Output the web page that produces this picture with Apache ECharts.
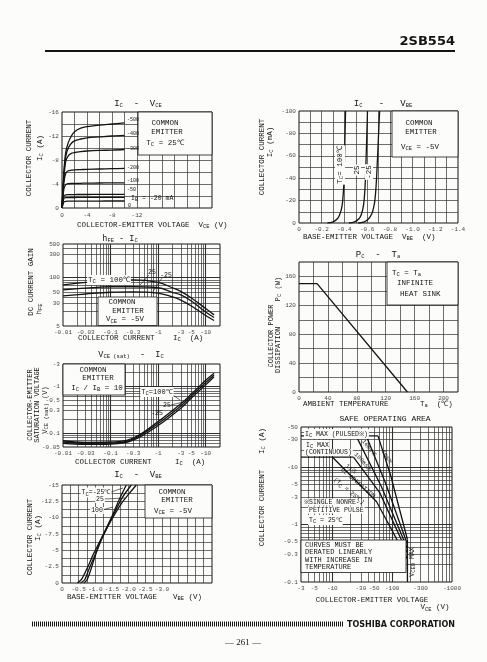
<!DOCTYPE html>
<html><head><meta charset="utf-8">
<script src="https://cdn.jsdelivr.net/npm/echarts@6/dist/echarts.min.js"></script>
<style>html,body{margin:0;padding:0;background:#fcfcfb;}#c{width:487px;height:662px;}</style>
</head><body><div id="c"></div>
<script>
// ================= DATA =================
// Panel A : IC - VCE  (common emitter, Tc = 25C)
const vceVolts = [0, -0.3, -0.6, -1, -1.5, -2, -3, -4, -6, -8, -10];
const icIb500 = [0, -6.0, -9.3, -10.9, -12.0, -12.7, -13.3, -13.55, -13.8, -14.0, -14.2];
const icIb400 = [0, -5.5, -8.6, -10.0, -10.8, -11.2, -11.5, -11.7, -11.85, -12.0, -12.1];
const icIb300 = [0, -5.0, -7.8, -8.7, -9.1, -9.25, -9.4, -9.5, -9.6, -9.65, -9.75];
const icIb200 = [0, -4.2, -5.8, -6.2, -6.3, -6.35, -6.4, -6.45, -6.5, -6.55, -6.6];
const icIb100 = [0, -3.2, -3.9, -4.05, -4.1, -4.1, -4.12, -4.15, -4.17, -4.18, -4.2];
const icIb50  = [0, -2.0, -2.2, -2.22, -2.23, -2.24, -2.25, -2.25, -2.26, -2.27, -2.28];
const icIb30  = [0, -1.6, -1.72, -1.74, -1.75, -1.75, -1.76, -1.76, -1.77, -1.77, -1.78];
const icIb20  = [0, -1.0, -1.12, -1.14, -1.15, -1.15, -1.16, -1.16, -1.16, -1.17, -1.17];
const aXTicks = [0, -4, -8, -12];
const aXLabels = ['0', '-4', '-8', '-12'];
const aYTicks = [-16, -12, -8, -4, 0];
const aYLabels = ['-16', '-12', '-8', '-4', '0'];

// Panel B : IC - VBE (mA)
const icBmA      = [0, -1, -4, -8, -13, -20, -35, -55, -78, -100];
const vbeBTc100  = [-0.25, -0.30, -0.34, -0.36, -0.375, -0.385, -0.395, -0.40, -0.405, -0.41];
const vbeBTc25   = [-0.44, -0.49, -0.53, -0.55, -0.563, -0.573, -0.583, -0.590, -0.597, -0.603];
const vbeBTcM25  = [-0.52, -0.575, -0.615, -0.64, -0.655, -0.668, -0.68, -0.69, -0.70, -0.71];
const bXTicks = [0, -0.2, -0.4, -0.6, -0.8, -1.0, -1.2, -1.4];
const bXLabels = ['0', '-0.2', '-0.4', '-0.6', '-0.8', '-1.0', '-1.2', '-1.4'];
const bYTicks = [-100, -80, -60, -40, -20, 0];
const bYLabels = ['-100', '-80', '-60', '-40', '-20', '0'];

// Panel C : hFE - IC
const hfeIc     = [-0.01, -0.03, -0.1, -0.3, -1, -2, -3, -5, -10, -15];
const hfeTc100  = [71, 80, 88, 90, 80, 62, 52, 38, 23, 17];
const hfeTc25   = [56, 61, 65, 65, 62, 50, 44, 33, 19.5, 15];
const hfeTcM25  = [42, 46, 50, 51, 48, 40, 34.5, 26, 16.5, 13];
const cXTicks = [-0.01, -0.03, -0.1, -0.3, -1, -3, -5, -10];
const cXLabels = ['-0.01', '-0.03', '-0.1', '-0.3', '-1', '-3', '-5', '-10'];
const cYTicks = [10, 30, 50, 100, 300, 500];
const cYLabels = ['5', '30', '50', '100', '300', '500'];

// Panel D : PC - Ta
const taDeg = [0, 25, 150];
const pcWatt = [150, 150, 0];
const dXTicks = [0, 40, 80, 120, 160, 200];
const dXLabels = ['0', '40', '80', '120', '160', '200'];
const dYTicks = [0, 40, 80, 120, 160];
const dYLabels = ['0', '40', '80', '120', '160'];

// Panel E : VCE(sat) - IC
const satIc    = [-0.01, -0.03, -0.1, -0.3, -1, -3, -5, -10, -15];
const satTc100 = [-0.068, -0.063, -0.064, -0.078, -0.175, -0.42, -0.68, -1.34, -1.9];
const satTc25  = [-0.064, -0.060, -0.061, -0.074, -0.16, -0.38, -0.62, -1.2, -1.75];
const satTcM25 = [-0.060, -0.057, -0.058, -0.070, -0.145, -0.34, -0.56, -1.07, -1.6];
const eYTicks = [-3, -1, -0.5, -0.3, -0.1, -0.05];
const eYLabels = ['-3', '-1', '-0.5', '-0.3', '-0.1', '-0.05'];

// Panel F : IC - VBE (A)
const vbeFTc100 = [-0.46, -0.58, -0.75, -0.95, -1.2, -1.5, -1.8, -2.0, -2.23];
const icFTc100  = [0, -0.5, -2.2, -4.5, -7.0, -9.8, -12.3, -13.6, -15];
const vbeFTc25  = [-0.56, -0.68, -0.8, -1.0, -1.2, -1.5, -1.8, -2.08];
const icFTc25   = [0, -0.5, -2.0, -4.4, -6.8, -10.0, -13.0, -15];
const vbeFTcM25 = [-0.66, -0.75, -0.85, -1.0, -1.2, -1.5, -1.7, -1.93];
const icFTcM25  = [0, -0.5, -1.8, -4.2, -7.0, -10.2, -12.6, -15];
const fXTicks = [0, -0.5, -1.0, -1.5, -2.0, -2.5, -3.0];
const fXLabels = ['0', '-0.5', '-1.0', '-1.5', '-2.0', '-2.5', '-3.0'];
const fYTicks = [-15, -12.5, -10, -7.5, -5, -2.5, 0];
const fYLabels = ['-15', '-12.5', '-10', '-7.5', '-5', '-2.5', '0'];

// Panel G : Safe operating area
const soaPulsedV = [-3, -58],          soaPulsedI = [-35, -35];
const soaContV   = [-3, -22.6],        soaContI   = [-15, -15];
const soaDcV     = [-10, -55, -180],   soaDcI     = [-15, -2.5, -0.25];
const soa1sV     = [-22.6, -62, -180], soa1sI     = [-15, -3.6, -0.32];
const soa100msV  = [-25, -66, -180],   soa100msI  = [-35, -4.6, -0.38];
const soa10msV   = [-37, -78, -180],   soa10msI   = [-35, -5.2, -0.45];
const soa1msV    = [-58, -95, -180],   soa1msI    = [-35, -7, -0.55];
const soaVceoV   = [-180, -180],       soaVceoI   = [-0.1, -0.55];
const gXTicks = [-3, -5, -10, -30, -50, -100, -300, -1000];
const gXLabels = ['-3', '-5', '-10', '-30', '-50', '-100', '-300', '-1000'];
const gYTicks = [-50, -30, -10, -5, -3, -1, -0.5, -0.3, -0.1];
const gYLabels = ['-50', '-30', '-10', '-5', '-3', '-1', '-0.5', '-0.3', '-0.1'];

// ================= STYLE / LAYOUT =================
const INK = '#141414';
const GRIDC = '#303030';
const BG = '#fcfcfb';
const FONT = '"Liberation Mono","DejaVu Sans Mono",monospace';
const TICKFONT = '"Liberation Mono","DejaVu Sans Mono",monospace';
const abs = v => Math.abs(v);

const grids = [
  {left: 62,  top: 112, width: 150, height: 96},   // A
  {left: 299, top: 111, width: 159, height: 112},  // B
  {left: 63,  top: 244, width: 157, height: 82},   // C
  {left: 299, top: 262, width: 159, height: 130},  // D
  {left: 63,  top: 364, width: 157, height: 83},   // E
  {left: 62,  top: 485, width: 150, height: 98},   // F
  {left: 301, top: 427, width: 151, height: 155}   // G
];
const hid = {axisLine: {show: false}, axisTick: {show: false}, axisLabel: {show: false}, splitLine: {show: false}};
const xAxes = [
  Object.assign({gridIndex: 0, type: 'value', min: -24, max: 0, inverse: true}, hid),
  Object.assign({gridIndex: 1, type: 'value', min: -1.4, max: 0, inverse: true}, hid),
  Object.assign({gridIndex: 2, type: 'log', min: 0.01, max: 20}, hid),
  Object.assign({gridIndex: 3, type: 'value', min: 0, max: 220}, hid),
  Object.assign({gridIndex: 4, type: 'log', min: 0.01, max: 20}, hid),
  Object.assign({gridIndex: 5, type: 'value', min: -4.5, max: 0, inverse: true}, hid),
  Object.assign({gridIndex: 6, type: 'log', min: 3, max: 1000}, hid)
];
const yAxes = [
  Object.assign({gridIndex: 0, type: 'value', min: -16, max: 0, inverse: true}, hid),
  Object.assign({gridIndex: 1, type: 'value', min: -100, max: 0, inverse: true}, hid),
  Object.assign({gridIndex: 2, type: 'log', min: 10, max: 500}, hid),
  Object.assign({gridIndex: 3, type: 'value', min: 0, max: 180}, hid),
  Object.assign({gridIndex: 4, type: 'log', min: 0.05, max: 3}, hid),
  Object.assign({gridIndex: 5, type: 'value', min: -15, max: 0, inverse: true}, hid),
  Object.assign({gridIndex: 6, type: 'log', min: 0.1, max: 50}, hid)
];

function logGrid(lo, hi) {
  const out = [];
  for (let e = -3; e <= 4; e++) for (let m = 1; m <= 9; m++) {
    const v = +(m * Math.pow(10, e)).toPrecision(6);
    if (v > lo * 1.0001 && v < hi * 0.9999) out.push({v, major: m === 1});
  }
  return out;
}
function linGrid(lo, hi, step) {
  const out = []; const n = Math.round((hi - lo) / step);
  for (let k = 1; k < n; k++) out.push({v: +(lo + k * step).toFixed(6), major: false});
  return out;
}
function decor(i, c) {
  const data = [];
  c.xTicks.forEach((v, k) => data.push({value: [c.fx(v), c.yBottom], label: {position: 'bottom', distance: c.xDist || 3, formatter: c.xLabels[k]}}));
  c.yTicks.forEach((v, k) => data.push({value: [c.xLeft, c.fy(v)], label: {position: 'left', distance: 3, formatter: c.yLabels[k]}}));
  const ml = [];
  c.xGrid.forEach(g => ml.push({xAxis: g.v, lineStyle: {width: g.major ? 1.1 : 0.7}}));
  c.yGrid.forEach(g => ml.push({yAxis: g.v, lineStyle: {width: g.major ? 1.1 : 0.7}}));
  return {type: 'scatter', xAxisIndex: i, yAxisIndex: i, z: 2, silent: true, clip: false,
    symbolSize: 0.1, itemStyle: {color: 'rgba(0,0,0,0)'},
    label: {show: true, color: INK, fontFamily: TICKFONT, fontSize: 6},
    data,
    markLine: {silent: true, symbol: ['none', 'none'], label: {show: false}, animation: false,
      lineStyle: {color: GRIDC, type: 'solid', width: 0.7}, data: ml}};
}
function curve(i, xs, ys, o) {
  o = o || {};
  return {type: 'line', xAxisIndex: i, yAxisIndex: i, z: 6, silent: true, symbol: 'none', showSymbol: false,
    smooth: o.smooth === undefined ? 0.3 : o.smooth, smoothMonotone: o.mono,
    lineStyle: {color: INK, width: o.w || 1.3},
    data: xs.map((x, k) => [x, ys[k]])};
}
const id = v => v;

const series = [
  decor(0, {xTicks: aXTicks, xLabels: aXLabels, yTicks: aYTicks, yLabels: aYLabels, fx: id, fy: id, yBottom: 0, xLeft: 0, xDist: 4,
    xGrid: linGrid(-24, 0, 2), yGrid: linGrid(-16, 0, 2)}),
  decor(1, {xTicks: bXTicks, xLabels: bXLabels, yTicks: bYTicks, yLabels: bYLabels, fx: id, fy: id, yBottom: 0, xLeft: 0,
    xGrid: linGrid(-1.4, 0, 0.1), yGrid: linGrid(-100, 0, 10)}),
  decor(2, {xTicks: cXTicks, xLabels: cXLabels, yTicks: cYTicks, yLabels: cYLabels, fx: abs, fy: id, yBottom: 10, xLeft: 0.01,
    xGrid: logGrid(0.01, 20), yGrid: logGrid(10, 500)}),
  decor(3, {xTicks: dXTicks, xLabels: dXLabels, yTicks: dYTicks, yLabels: dYLabels, fx: id, fy: id, yBottom: 0, xLeft: 0,
    xGrid: linGrid(0, 220, 20), yGrid: linGrid(0, 180, 20)}),
  decor(4, {xTicks: cXTicks, xLabels: cXLabels, yTicks: eYTicks, yLabels: eYLabels, fx: abs, fy: abs, yBottom: 0.05, xLeft: 0.01,
    xGrid: logGrid(0.01, 20), yGrid: logGrid(0.05, 3)}),
  decor(5, {xTicks: fXTicks, xLabels: fXLabels, yTicks: fYTicks, yLabels: fYLabels, fx: id, fy: id, yBottom: 0, xLeft: 0,
    xGrid: linGrid(-4.5, 0, 0.25), yGrid: linGrid(-15, 0, 1.25)}),
  decor(6, {xTicks: gXTicks, xLabels: gXLabels, yTicks: gYTicks, yLabels: gYLabels, fx: abs, fy: abs, yBottom: 0.1, xLeft: 3,
    xGrid: logGrid(3, 1000), yGrid: logGrid(0.1, 50)}),

  // A
  curve(0, vceVolts, icIb500, {smooth: 0.35}),
  curve(0, vceVolts, icIb400, {smooth: 0.35}),
  curve(0, vceVolts, icIb300, {smooth: 0.35}),
  curve(0, vceVolts, icIb200, {smooth: 0.3}),
  curve(0, vceVolts, icIb100, {smooth: 0.25}),
  curve(0, vceVolts, icIb50, {smooth: 0.2}),
  curve(0, vceVolts, icIb30, {smooth: 0.2}),
  curve(0, vceVolts, icIb20, {smooth: 0.2}),
  // B
  curve(1, vbeBTc100, icBmA, {smooth: 0.4}),
  curve(1, vbeBTc25, icBmA, {smooth: 0.4}),
  curve(1, vbeBTcM25, icBmA, {smooth: 0.4}),
  // C
  curve(2, hfeIc.map(abs), hfeTc100, {smooth: 0.4}),
  curve(2, hfeIc.map(abs), hfeTc25, {smooth: 0.4}),
  curve(2, hfeIc.map(abs), hfeTcM25, {smooth: 0.4}),
  // D
  curve(3, taDeg, pcWatt, {smooth: false}),
  // E
  curve(4, satIc.map(abs), satTc100.map(abs), {smooth: 0.4}),
  curve(4, satIc.map(abs), satTc25.map(abs), {smooth: 0.4}),
  curve(4, satIc.map(abs), satTcM25.map(abs), {smooth: 0.4}),
  // F
  curve(5, vbeFTc100, icFTc100, {smooth: 0.3}),
  curve(5, vbeFTc25, icFTc25, {smooth: 0.3}),
  curve(5, vbeFTcM25, icFTcM25, {smooth: 0.3}),
  // G
  curve(6, soaPulsedV.map(abs), soaPulsedI.map(abs), {smooth: false}),
  curve(6, soaContV.map(abs), soaContI.map(abs), {smooth: false}),
  curve(6, soaDcV.map(abs), soaDcI.map(abs), {smooth: false}),
  curve(6, soa1sV.map(abs), soa1sI.map(abs), {smooth: false}),
  curve(6, soa100msV.map(abs), soa100msI.map(abs), {smooth: false}),
  curve(6, soa10msV.map(abs), soa10msI.map(abs), {smooth: false}),
  curve(6, soa1msV.map(abs), soa1msI.map(abs), {smooth: false}),
  curve(6, soaVceoV.map(abs), soaVceoI.map(abs), {smooth: false})
];

// ================= TEXT / ANNOTATIONS =================
const RICH = {s: {fontSize: 5.5, fontFamily: FONT, fill: INK, padding: [4, 0, 0, 0]}};
function T(x, y, text, o) {
  o = o || {};
  const st = {text, fontFamily: o.ff || FONT, fontSize: o.fs || 7.5, fontWeight: o.fw || 'normal',
    fill: INK, align: o.align || 'center', verticalAlign: o.va || 'middle', rich: RICH};
  if (o.bg) { st.backgroundColor = o.bg; st.padding = [0, 1]; }
  return {type: 'text', x, y, rotation: (o.rot || 0) * Math.PI / 180, z: 30, silent: true, style: st};
}
function R(x, y, w, h) {
  return {type: 'rect', z: 20, silent: true, shape: {x, y, width: w, height: h}, style: {fill: BG, stroke: INK, lineWidth: 0.8}};
}
function L(x1, y1, x2, y2, w, dash) {
  return {type: 'line', z: 25, silent: true, shape: {x1, y1, x2, y2}, style: {stroke: INK, lineWidth: w || 0.6, lineDash: dash}};
}

const els = [
  // header / footer
  T(455, 48.5, '2SB554', {align: 'right', va: 'bottom', ff: '"DejaVu Sans",sans-serif', fw: 'bold', fs: 13}),
  L(45, 51, 455, 51, 2),
  L(32, 624, 344, 624, 5, [1, 1]),
  T(455, 624.5, 'TOSHIBA CORPORATION', {align: 'right', ff: '"DejaVu Sans",sans-serif', fw: 'bold', fs: 8}),
  T(243, 643, '— 261 —', {ff: '"Liberation Serif",serif', fs: 9}),

  // Panel A
  T(138, 104, 'I{s|C}  -  V{s|CE}', {fs: 9}),
  T(29, 158, 'COLLECTOR CURRENT', {rot: 90}),
  T(40, 148, 'I{s|C} (A)', {rot: 90}),
  T(77, 225, 'COLLECTOR-EMITTER VOLTAGE  V{s|CE} (V)', {align: 'left'}),
  R(138, 112, 74, 43),
  T(165, 123, 'COMMON'), T(167, 132, 'EMITTER'), T(165, 143, 'T{s|C} = 25℃'),
  T(127, 120, '-500', {align: 'left', fs: 5}),
  T(127, 134, '-400', {align: 'left', fs: 5}),
  T(127, 149, '-300', {align: 'left', fs: 5}),
  T(127, 168, '-200', {align: 'left', fs: 5}),
  T(127, 181, '-100', {align: 'left', fs: 5}),
  T(127, 190, '-50', {align: 'left', fs: 5}),
  T(128, 206, '0', {align: 'left', fs: 5}),
  T(131, 198, 'I{s|B} = -20 mA', {align: 'left', fs: 6.5}),

  // Panel B
  T(383, 104, 'I{s|C}   -   V{s|BE}', {fs: 9}),
  T(262, 157, 'COLLECTOR CURRENT', {rot: 90}),
  T(270, 142, 'I{s|C} (mA)', {rot: 90}),
  T(303, 237, 'BASE-EMITTER VOLTAGE  V{s|BE}  (V)', {align: 'left'}),
  R(392, 111, 66, 46),
  T(419, 123, 'COMMON'), T(421, 132, 'EMITTER'), T(420, 147, 'V{s|CE} = -5V'),
  T(340, 165, 'T{s|C}= 100℃', {rot: 90, bg: BG}),
  T(357, 170, '25', {rot: 90, bg: BG}),
  T(369, 172, '-25', {rot: 90, bg: BG}),

  // Panel C
  T(120, 239, 'h{s|FE} - I{s|C}', {fs: 8.5}),
  T(31, 282, 'DC CURRENT GAIN', {rot: 90}),
  T(39, 309, 'h{s|FE}', {rot: 90}),
  T(78, 338, 'COLLECTOR CURRENT', {align: 'left'}),
  T(173, 338, 'I{s|C}  (A)', {align: 'left'}),
  R(98, 297, 59, 28.5),
  T(122, 302, 'COMMON'), T(128, 311, 'EMITTER'), T(125, 319.5, 'V{s|CE} = -5V'),
  T(109, 280, 'T{s|C} = 100℃', {bg: BG}),
  T(152, 272.5, '25', {fs: 6.5}), T(166, 275, '-25', {fs: 6.5}),
  L(149, 275, 140, 285), L(162, 278, 152, 293),

  // Panel D
  T(378, 255, 'P{s|C}  -  T{s|a}', {fs: 9}),
  T(271, 336, 'COLLECTOR POWER', {rot: 90, fs: 7}),
  T(278, 350, 'DISSIPATION', {rot: 90, fs: 7}),
  T(278, 289, 'P{s|C} (W)', {rot: 90, fs: 7}),
  T(303, 404, 'AMBIENT TEMPERATURE', {align: 'left'}),
  T(420, 404, 'T{s|a}  (℃)', {align: 'left'}),
  R(387, 262, 71, 43),
  T(392, 273, 'T{s|C} = T{s|a}', {align: 'left'}),
  T(397, 283.5, 'INFINITE', {align: 'left'}),
  T(400, 294.5, 'HEAT SINK', {align: 'left'}),

  // Panel E
  T(131, 355, 'V{s|CE (sat)}  -  I{s|C}', {fs: 8.5}),
  T(30, 405, 'COLLECTOR-EMITTER', {rot: 90, fs: 7}),
  T(37, 405, 'SATURATION VOLTAGE', {rot: 90, fs: 7}),
  T(45, 410, 'V{s|CE (sat)} (V)', {rot: 90, fs: 7}),
  T(75, 462, 'COLLECTOR CURRENT', {align: 'left'}),
  T(175, 462, 'I{s|C}  (A)', {align: 'left'}),
  R(63, 364, 62, 31),
  T(93, 370, 'COMMON'), T(98, 378.5, 'EMITTER'), T(97, 388, 'I{s|C} / I{s|B} = 10'),
  T(157, 392, 'T{s|C}=100℃', {bg: BG, fs: 7}),
  T(167, 405, '25', {fs: 6.5}), T(157, 413, '-25', {fs: 6.5}),
  L(170, 393, 180, 400), L(171, 405, 183, 402),

  // Panel F
  T(138, 475, 'I{s|C}  -  V{s|BE}', {fs: 9}),
  T(30, 537, 'COLLECTOR CURRENT', {rot: 90}),
  T(38, 528, 'I{s|C} (A)', {rot: 90}),
  T(67, 597, 'BASE-EMITTER VOLTAGE', {align: 'left'}),
  T(173, 597, 'V{s|BE} (V)', {align: 'left'}),
  R(145, 485, 67, 33),
  T(172, 492, 'COMMON'), T(177, 500, 'EMITTER'), T(173, 511, 'V{s|CE} = -5V'),
  T(96, 492.5, 'T{s|C}=-25℃', {fs: 6.5, bg: BG}),
  T(100, 499.5, '25', {fs: 6.5, bg: BG}),
  T(97, 510.5, '100', {fs: 6.5, bg: BG}),
  L(111, 492, 123, 488), L(104, 499, 125, 498), L(102, 510, 113, 507),

  // Panel G
  T(385, 419, 'SAFE OPERATING AREA', {fs: 8}),
  T(262, 508, 'COLLECTOR CURRENT', {rot: 90}),
  T(262, 441, 'I{s|C} (A)', {rot: 90}),
  T(372, 600, 'COLLECTOR-EMITTER VOLTAGE'),
  T(435, 607.5, 'V{s|CE} (V)'),
  T(304, 434, 'I{s|C} MAX (PULSED※)', {align: 'left', fs: 6.5, bg: BG}),
  T(305, 445, 'I{s|C} MAX', {align: 'left', fs: 6.5, bg: BG}),
  T(304, 452.5, '(CONTINUOUS)', {align: 'left', fs: 6.5, bg: BG}),
  T(303, 502, '※SINGLE NONRE-', {align: 'left', fs: 6.5, bg: BG}),
  T(308, 510, 'PETITIVE PULSE', {align: 'left', fs: 6.5, bg: BG}),
  T(308, 520, 'T{s|C} = 25℃', {align: 'left', fs: 6.5, bg: BG}),
  R(301, 540, 105, 32.5),
  T(305, 544.7, 'CURVES MUST BE', {align: 'left', fs: 7}),
  T(305, 552.2, 'DERATED LINEARLY', {align: 'left', fs: 7}),
  T(305, 559.7, 'WITH INCREASE IN', {align: 'left', fs: 7}),
  T(305, 567.2, 'TEMPERATURE', {align: 'left', fs: 7}),
  T(412, 562, 'V{s|CEO} MAX', {rot: 90, fs: 6.5}),
  T(369, 448, '10ms※', {rot: -52, fs: 6}),
  T(363, 462, '100ms※', {rot: -48, fs: 6}),
  T(387, 457, '1ms※', {rot: -58, fs: 6}),
  T(351, 469, '1s※', {rot: -38, fs: 6}),
  T(358, 483, 'DC OPERATION', {rot: -40, fs: 6}),
  T(349, 491, '(T{s|C} = 25℃)', {rot: -40, fs: 6})
];

const chart = echarts.init(document.getElementById('c'), null, {renderer: 'canvas', width: 487, height: 662});
chart.setOption({
  animation: false,
  backgroundColor: BG,
  grid: grids.map(g => Object.assign({show: true, borderColor: INK, borderWidth: 1, backgroundColor: 'transparent'}, g)),
  xAxis: xAxes,
  yAxis: yAxes,
  series,
  graphic: {elements: els}
});
</script></body></html>
